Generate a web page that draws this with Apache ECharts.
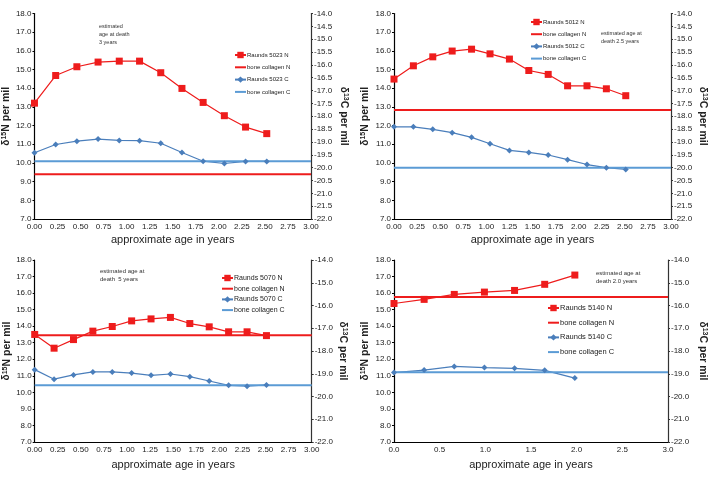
<!DOCTYPE html>
<html>
<head>
<meta charset="utf-8">
<script src="https://cdn.jsdelivr.net/npm/echarts@6/dist/echarts.min.js"></script>
<style>
  html, body { margin: 0; padding: 0; background: #fff; }
  #main { width: 709px; height: 478px; }
</style>
</head>
<body>
<div id="main"></div>
<script>
// ages (years) and isotope values
var ages5023 = [0, 0.23, 0.46, 0.69, 0.92, 1.14, 1.37, 1.60, 1.83, 2.06, 2.29, 2.52];
var n5023 = [13.2, 14.68, 15.15, 15.4, 15.45, 15.45, 14.83, 13.99, 13.24, 12.53, 11.92, 11.57];
var c5023 = [-19.42, -19.1, -18.97, -18.89, -18.94, -18.95, -19.05, -19.41, -19.75, -19.84, -19.76, -19.76];
var boneN5023 = 9.4, boneC5023 = -19.75;

var ages5012 = [0, 0.21, 0.42, 0.63, 0.84, 1.04, 1.25, 1.46, 1.67, 1.88, 2.09, 2.30, 2.51];
var n5012 = [14.49, 15.2, 15.68, 15.99, 16.09, 15.84, 15.56, 14.95, 14.74, 14.13, 14.13, 13.97, 13.6];
var c5012 = [-18.41, -18.41, -18.51, -18.64, -18.82, -19.07, -19.33, -19.41, -19.51, -19.69, -19.88, -20.0, -20.07];
var boneN5012 = 12.83, boneC5012 = -20.0;

var ages5070 = [0, 0.21, 0.42, 0.63, 0.84, 1.05, 1.26, 1.47, 1.68, 1.89, 2.10, 2.30, 2.51];
var n5070 = [13.5, 12.67, 13.19, 13.7, 13.98, 14.32, 14.44, 14.53, 14.16, 13.96, 13.66, 13.66, 13.43];
var c5070 = [-18.82, -19.24, -19.05, -18.92, -18.92, -18.97, -19.07, -19.01, -19.13, -19.32, -19.51, -19.55, -19.49];
var boneN5070 = 13.45, boneC5070 = -19.5;

var ages5140 = [0, 0.33, 0.66, 0.99, 1.32, 1.65, 1.98];
var n5140 = [15.37, 15.62, 15.92, 16.06, 16.16, 16.53, 17.09];
var c5140 = [-18.95, -18.84, -18.68, -18.73, -18.76, -18.85, -19.19];
var boneN5140 = 15.77, boneC5140 = -18.93;

var FONT = '"Liberation Sans", Arial, sans-serif';
var RED = '#EE1C1C', BLUE = '#4A7EBB', LBLUE = '#5B9BD5';

var panels = [
  { id: '5023', ages: ages5023, n: n5023, c: c5023, boneN: boneN5023, boneC: boneC5023,
    grid: { left: 34, top: 13.5, width: 277, height: 205.5 }, cStep: 0.5, xStep: 0.25,
    leftGap: 17, rightGap: 27, xNameGap: 15,
    leg: { left: 234, top: 51, gap: 4.3, font: 6 },
    note: { x: 99, y: 22, text: 'estimated\nage at death\n3 years', font: 5.5, lh: 8.2 } },
  { id: '5012', ages: ages5012, n: n5012, c: c5012, boneN: boneN5012, boneC: boneC5012,
    grid: { left: 394, top: 13.5, width: 277, height: 205.5 }, cStep: 0.5, xStep: 0.25,
    leftGap: 23, rightGap: 26, xNameGap: 15,
    leg: { left: 530, top: 18, gap: 4.2, font: 6 },
    note: { x: 601, y: 30, text: 'estimated age at\ndeath 2.5 years', font: 5.5, lh: 7.7 } },
  { id: '5070', ages: ages5070, n: n5070, c: c5070, boneN: boneN5070, boneC: boneC5070,
    grid: { left: 34.7, top: 260, width: 277, height: 182 }, cStep: 1, xStep: 0.25,
    leftGap: 20, rightGap: 26, xNameGap: 17,
    leg: { left: 221, top: 274, gap: 2.7, font: 7 },
    note: { x: 100, y: 268, text: 'estimated age at\ndeath  5 years', font: 6, lh: 7.6 } },
  { id: '5140', ages: ages5140, n: n5140, c: c5140, boneN: boneN5140, boneC: boneC5140,
    grid: { left: 394, top: 260, width: 274, height: 182 }, cStep: 1, xStep: 0.5,
    leftGap: 23, rightGap: 29, xNameGap: 17,
    leg: { left: 547, top: 304, gap: 6.7, font: 7.5 },
    note: { x: 596, y: 269, text: 'estimated age at\ndeath 2.0 years', font: 6, lh: 8 } }
];

var nameRich = {
  d: { fontSize: 10, color: '#222' },
  s: { fontSize: 7, fontWeight: 'bold', color: '#222', verticalAlign: 'top' },
  n: { fontSize: 10.5, fontWeight: 'bold', color: '#222' }
};

var option = {
  animation: false,
  backgroundColor: '#fff',
  textStyle: { fontFamily: FONT },
  grid: [], xAxis: [], yAxis: [], series: [], legend: [], graphic: []
};

panels.forEach(function (p, k) {
  option.grid.push(p.grid);
  var xDec = p.xStep < 0.5 ? 2 : 1;
  option.xAxis.push({
    type: 'value', gridIndex: k, min: 0, max: 3, interval: p.xStep,
    name: 'approximate age in years', nameLocation: 'middle', nameGap: p.xNameGap,
    nameTextStyle: { fontSize: 11, color: '#222', fontFamily: FONT },
    axisLine: { lineStyle: { color: '#000', width: 1.2 } },
    axisTick: { show: false },
    axisLabel: { fontSize: 8, color: '#222', margin: 4, formatter: function (v) { return v.toFixed(xDec); } },
    splitLine: { show: false }
  });
  option.yAxis.push({
    type: 'value', gridIndex: k, min: 7, max: 18, interval: 1,
    name: '{d|δ}{s|15}{n|N per mil}', nameLocation: 'middle', nameGap: p.leftGap,
    nameTextStyle: { fontSize: 10.5, fontWeight: 'bold', color: '#222', rich: nameRich },
    axisLine: { show: true, lineStyle: { color: '#000', width: 1.2 } },
    axisTick: { show: true, length: 2, lineStyle: { color: '#000' } },
    axisLabel: { fontSize: 8, color: '#222', margin: 3, formatter: function (v) { return v.toFixed(1); } },
    splitLine: { show: false }
  });
  option.yAxis.push({
    type: 'value', gridIndex: k, position: 'right', min: -22, max: -14, interval: p.cStep,
    name: '{d|δ}{s|13}{n|C per mil}', nameLocation: 'middle', nameGap: p.rightGap, nameRotate: -90,
    nameTextStyle: { fontSize: 10.5, fontWeight: 'bold', color: '#222', rich: nameRich },
    axisLine: { show: true, lineStyle: { color: '#333', width: 1.2 } },
    axisTick: { show: true, length: 2, lineStyle: { color: '#333' } },
    axisLabel: { fontSize: 8, color: '#222', margin: 3, formatter: function (v) { return v.toFixed(1); } },
    splitLine: { show: false }
  });
  var yN = 2 * k, yC = 2 * k + 1;
  var nName = 'Raunds ' + p.id + ' N', cName = 'Raunds ' + p.id + ' C';
  option.series.push(
    { name: nName, type: 'line', xAxisIndex: k, yAxisIndex: yN, symbol: 'rect', symbolSize: 7,
      itemStyle: { color: RED }, lineStyle: { color: RED, width: 1.2 },
      data: p.ages.map(function (a, i) { return [a, p.n[i]]; }) },
    { name: 'bone collagen N', type: 'line', xAxisIndex: k, yAxisIndex: yN, symbol: 'none',
      itemStyle: { color: RED }, lineStyle: { color: RED, width: 2 },
      data: [[0, p.boneN], [3, p.boneN]] },
    { name: cName, type: 'line', xAxisIndex: k, yAxisIndex: yC, symbol: 'diamond', symbolSize: 6,
      itemStyle: { color: BLUE }, lineStyle: { color: BLUE, width: 1.2 },
      data: p.ages.map(function (a, i) { return [a, p.c[i]]; }) },
    { name: 'bone collagen C', type: 'line', xAxisIndex: k, yAxisIndex: yC, symbol: 'none',
      itemStyle: { color: LBLUE }, lineStyle: { color: LBLUE, width: 2 },
      data: [[0, p.boneC], [3, p.boneC]] }
  );
  option.legend.push({
    orient: 'vertical', left: p.leg.left, top: p.leg.top, padding: 0,
    itemWidth: 11, itemHeight: 8, itemGap: p.leg.gap, selectedMode: false,
    textStyle: { fontSize: p.leg.font, lineHeight: 8, color: '#222', padding: [0, 0, 0, -4] },
    data: [nName, { name: 'bone collagen N', itemStyle: { opacity: 0 } },
           cName, { name: 'bone collagen C', itemStyle: { opacity: 0 } }]
  });
  option.graphic.push({
    type: 'text', left: p.note.x, top: p.note.y,
    style: { text: p.note.text, fontSize: p.note.font, lineHeight: p.note.lh, fill: '#333', fontFamily: FONT }
  });
});

var chart = echarts.init(document.getElementById('main'), null, { renderer: 'canvas' });
chart.setOption(option);
</script>
</body>
</html>
